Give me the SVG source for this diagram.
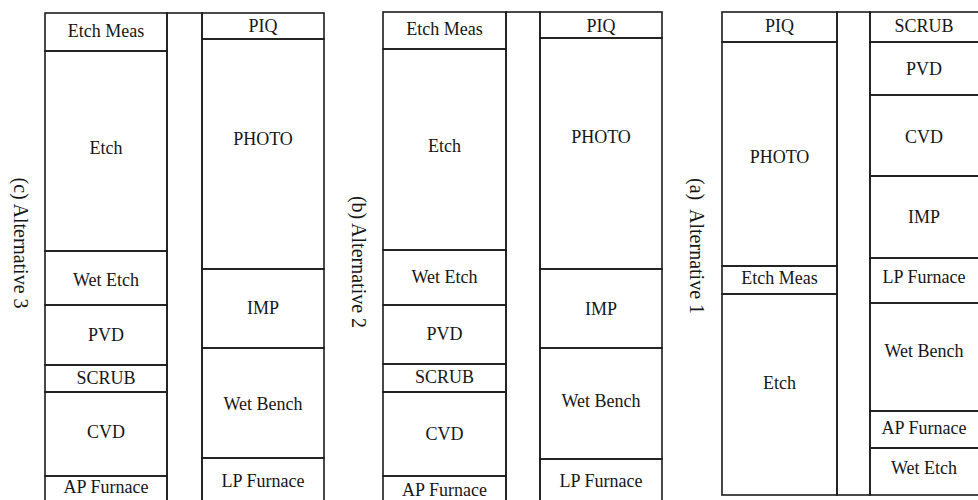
<svg xmlns="http://www.w3.org/2000/svg" width="978" height="500" viewBox="0 0 978 500">
<style>
rect{fill:none;stroke:#1c1c1c;stroke-width:1.6}
text{font-family:"Liberation Serif","Times New Roman",serif;font-size:18px;fill:#161616;text-anchor:middle}
.lab{font-size:20px}
</style>
<rect x="0" y="0" width="978" height="500" style="fill:#fff;stroke:none"/>
<!-- Alternative 3 -->
<g id="alt3">
<text class="lab" transform="translate(14,243) rotate(90)">(c) Alternative 3</text>
<rect x="167" y="13" width="35" height="500"/>
<g id="c-etchmeas"><rect x="45" y="13" width="122" height="38"/><text x="106" y="37">Etch Meas</text></g>
<g id="c-etch"><rect x="45" y="51" width="122" height="200"/><text x="106" y="154">Etch</text></g>
<g id="c-wetetch"><rect x="45" y="251" width="122" height="54"/><text x="106" y="286">Wet Etch</text></g>
<g id="c-pvd"><rect x="45" y="305" width="122" height="60"/><text x="106" y="341">PVD</text></g>
<g id="c-scrub"><rect x="45" y="365" width="122" height="27"/><text x="106" y="384">SCRUB</text></g>
<g id="c-cvd"><rect x="45" y="392" width="122" height="84"/><text x="106" y="438">CVD</text></g>
<g id="c-apfurnace"><rect x="45" y="476" width="122" height="40"/><text x="106" y="493">AP Furnace</text></g>
<g id="c-piq"><rect x="202" y="13" width="122" height="26"/><text x="263" y="32">PIQ</text></g>
<g id="c-photo"><rect x="202" y="39" width="122" height="230"/><text x="263" y="145">PHOTO</text></g>
<g id="c-imp"><rect x="202" y="269" width="122" height="79"/><text x="263" y="314">IMP</text></g>
<g id="c-wetbench"><rect x="202" y="348" width="122" height="110"/><text x="263" y="410">Wet Bench</text></g>
<g id="c-lpfurnace"><rect x="202" y="458" width="122" height="60"/><text x="263" y="487">LP Furnace</text></g>
</g>
<!-- Alternative 2 -->
<g id="alt2">
<text class="lab" transform="translate(352,262) rotate(90)">(b) Alternative 2</text>
<rect x="506" y="12" width="34" height="500"/>
<g id="b-etchmeas"><rect x="383" y="12" width="123" height="37"/><text x="444.5" y="35">Etch Meas</text></g>
<g id="b-etch"><rect x="383" y="49" width="123" height="201"/><text x="444.5" y="152">Etch</text></g>
<g id="b-wetetch"><rect x="383" y="250" width="123" height="55"/><text x="444.5" y="283">Wet Etch</text></g>
<g id="b-pvd"><rect x="383" y="305" width="123" height="59"/><text x="444.5" y="340">PVD</text></g>
<g id="b-scrub"><rect x="383" y="364" width="123" height="28"/><text x="444.5" y="383">SCRUB</text></g>
<g id="b-cvd"><rect x="383" y="392" width="123" height="84"/><text x="444.5" y="440">CVD</text></g>
<g id="b-apfurnace"><rect x="383" y="476" width="123" height="40"/><text x="444.5" y="496">AP Furnace</text></g>
<g id="b-piq"><rect x="540" y="12" width="122" height="26"/><text x="601" y="32">PIQ</text></g>
<g id="b-photo"><rect x="540" y="38" width="122" height="231"/><text x="601" y="143">PHOTO</text></g>
<g id="b-imp"><rect x="540" y="269" width="122" height="79"/><text x="601" y="315">IMP</text></g>
<g id="b-wetbench"><rect x="540" y="348" width="122" height="111"/><text x="601" y="407">Wet Bench</text></g>
<g id="b-lpfurnace"><rect x="540" y="459" width="122" height="60"/><text x="601" y="487">LP Furnace</text></g>
</g>
<!-- Alternative 1 -->
<g id="alt1">
<text class="lab" transform="translate(690,246) rotate(90)" xml:space="preserve">(a)  Alternative 1</text>
<rect x="837" y="12" width="33" height="483"/>
<g id="a-piq"><rect x="722" y="12" width="115" height="30"/><text x="779.5" y="32">PIQ</text></g>
<g id="a-photo"><rect x="722" y="42" width="115" height="224"/><text x="779.5" y="163">PHOTO</text></g>
<g id="a-etchmeas"><rect x="722" y="266" width="115" height="28"/><text x="779.5" y="284">Etch Meas</text></g>
<g id="a-etch"><rect x="722" y="294" width="115" height="201"/><text x="779.5" y="389">Etch</text></g>
<g id="a-scrub"><rect x="870" y="12" width="110" height="30"/><text x="924" y="32">SCRUB</text></g>
<g id="a-pvd"><rect x="870" y="42" width="110" height="53"/><text x="924" y="75">PVD</text></g>
<g id="a-cvd"><rect x="870" y="95" width="110" height="81"/><text x="924" y="143">CVD</text></g>
<g id="a-imp"><rect x="870" y="176" width="110" height="82"/><text x="924" y="223">IMP</text></g>
<g id="a-lpfurnace"><rect x="870" y="258" width="110" height="45"/><text x="924" y="283">LP Furnace</text></g>
<g id="a-wetbench"><rect x="870" y="303" width="110" height="108"/><text x="924" y="357">Wet Bench</text></g>
<g id="a-apfurnace"><rect x="870" y="411" width="110" height="37"/><text x="924" y="434">AP Furnace</text></g>
<g id="a-wetetch"><rect x="870" y="448" width="110" height="47"/><text x="924" y="474">Wet Etch</text></g>
</g>
<g id="connectors"></g>
</svg>
